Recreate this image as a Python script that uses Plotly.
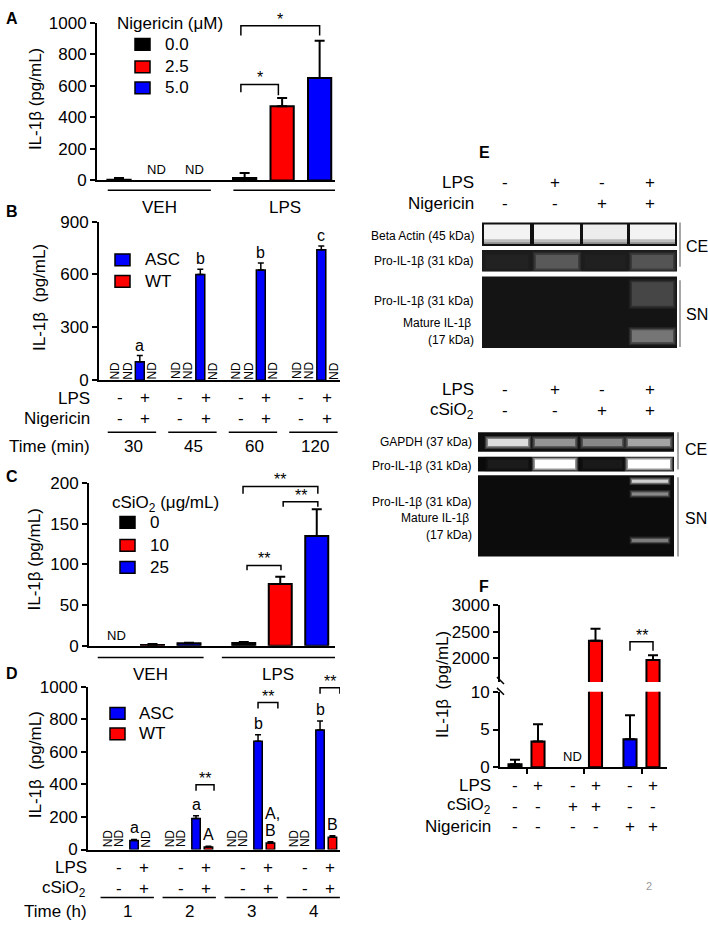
import plotly.graph_objects as go

W, H = 708, 932
FONT = "Liberation Sans, Arial, Helvetica, sans-serif"
BLK, RED, BLU = "#000000", "#ff0000", "#0000ff"

# ---------------- data ----------------
# Panel A : Nigericin dose, VEH / LPS
A_groups = ["VEH", "LPS"]
A_doses = ["0.0", "2.5", "5.0"]
A_vals = [5, None, None, 15, 470, 650]
A_err = [10, 0, 0, 32, 52, 235]
A_cols = [BLK, RED, BLU, BLK, RED, BLU]

# Panel B : time course (min), ASC vs WT, LPS + Nigericin
B_times = ["30", "45", "60", "120"]
B_asc = [105, 600, 625, 740]
B_asc_err = [35, 30, 40, 22]
B_letters = ["a", "b", "b", "c"]
B_lps = ["-", "+"]
B_nig = ["-", "+"]

# Panel C : cSiO2 dose, VEH / LPS
C_groups = ["VEH", "LPS"]
C_doses = ["0", "10", "25"]
C_vals = [None, 1, 3, 3.5, 76, 135]
C_err = [0, 1.2, 0.8, 1.0, 9, 33]
C_cols = [BLK, RED, BLU, BLK, RED, BLU]

# Panel D : time course (h), ASC vs WT, LPS + cSiO2
D_times = ["1", "2", "3", "4"]
D_asc = [55, 190, 665, 735]
D_asc_err = [7, 18, 40, 55]
D_wt = [None, 15, 40, 75]
D_wt_err = [0, 5, 8, 10]
D_asc_letters = ["a", "a", "b", "b"]
D_wt_letters = [[], ["A"], ["A,", "B"], ["B"]]
D_lps = ["-", "+"]
D_sio2 = ["-", "+"]

# Panel F : broken axis
F_vals = [0.4, 3.4, None, 2330, 3.7, 1970]
F_err = [0.6, 2.3, 0, 220, 3.2, 90]
F_cols = [BLK, RED, RED, RED, BLU, RED]
F_lps = ["-", "+", "-", "+", "-", "+"]
F_sio2 = ["-", "-", "+", "+", "-", "-"]
F_nig = ["-", "-", "-", "-", "+", "+"]

# Panel E : blots (relative band intensity per lane)
E1_lps = ["-", "+", "-", "+"]
E1_nig = ["-", "-", "+", "+"]
E2_lps = ["-", "+", "-", "+"]
E2_sio2 = ["-", "-", "+", "+"]
E1_actin = [0.95, 0.95, 0.92, 0.95]
E1_pro_ce = [0.07, 0.30, 0.06, 0.28]
E1_sn_pro = [0.0, 0.0, 0.0, 0.22]
E1_sn_mat = [0.0, 0.0, 0.0, 0.42]
E2_gapdh = [0.85, 0.55, 0.5, 0.62]
E2_pro_ce = [0.04, 1.0, 0.03, 1.0]
E2_sn_pro_hi = [0.0, 0.0, 0.0, 0.8]
E2_sn_pro_lo = [0.0, 0.0, 0.0, 0.5]
E2_sn_mat = [0.0, 0.0, 0.0, 0.45]

# ---------------- helpers ----------------
shapes, anns = [], []


def px(x):
    return x / W


def py(y):
    return 1 - y / H


def text(t, x, y, size=17, xa="center", ya="middle", xref="paper", yref="paper",
         angle=0, color="black", bold=False, yshift=0, xshift=0):
    X = px(x) if xref == "paper" else x
    Y = py(y) if yref == "paper" else y
    if bold:
        t = "<b>" + t + "</b>"
    anns.append(dict(text=t, x=X, y=Y, xref=xref, yref=yref, xanchor=xa, yanchor=ya,
                     showarrow=False, textangle=angle, yshift=yshift, xshift=xshift,
                     font=dict(family=FONT, size=size, color=color)))


def line(x0, y0, x1, y1, xref="paper", yref="paper", w=1.5, color="black"):
    if xref == "paper":
        x0, x1 = px(x0), px(x1)
    if yref == "paper":
        y0, y1 = py(y0), py(y1)
    shapes.append(dict(type="line", x0=x0, y0=y0, x1=x1, y1=y1, xref=xref, yref=yref,
                       line=dict(color=color, width=w)))


def rect(x0, y0, x1, y1, fill, lc=None, lw=0, opacity=1.0):
    shapes.append(dict(type="rect", x0=px(x0), x1=px(x1), y0=py(y1), y1=py(y0),
                       xref="paper", yref="paper", fillcolor=fill, opacity=opacity,
                       line=dict(color=lc if lc else fill, width=lw)))


def bracket(xr, yr, x0, x1, yt, yl0, yl1, stars):
    shapes.append(dict(type="path", xref=xr, yref=yr,
                       path=f"M {x0},{yl0} L {x0},{yt} L {x1},{yt} L {x1},{yl1}",
                       line=dict(color="black", width=1.5)))
    text(stars, (x0 + x1) / 2, yt, size=16, ya="bottom", xref=xr, yref=yr, yshift=-4)


def legbox(x, y, color, label, tx):
    rect(x, y - 6, x + 15, y + 6, color, "black", 1.5)
    text(label, tx, y, xa="left")


def xaxis(p0, p1, r, anchor, **kw):
    d = dict(domain=[px(p0), px(p1)], range=r, anchor=anchor, showline=True,
             linecolor="black", linewidth=2, showgrid=False, zeroline=False,
             ticks="", showticklabels=False, fixedrange=True)
    d.update(kw)
    return d


def yaxis(top, bot, r, tv, anchor, **kw):
    d = dict(domain=[py(bot), py(top)], range=r, anchor=anchor, showline=True,
             linecolor="black", linewidth=2, showgrid=False, zeroline=False,
             ticks="outside", ticklen=5, tickwidth=2, tickcolor="black",
             tickvals=tv, ticktext=[str(v) for v in tv],
             tickfont=dict(family=FONT, size=17, color="black"), fixedrange=True)
    d.update(kw)
    return d


def bars(x, y, err, cols, xa, ya, width, lw=2, cap=5, th=2):
    return go.Bar(x=x, y=y, width=width, xaxis=xa, yaxis=ya, showlegend=False,
                  hoverinfo="skip",
                  marker=dict(color=cols, line=dict(color="black", width=lw)),
                  error_y=dict(type="data", symmetric=False, array=err,
                               arrayminus=[0] * len(err), color="black",
                               thickness=th, width=cap))


def gray(level, base=18):
    v = int(base + level * (255 - base))
    return f"rgb({v},{v},{v})"


def band(x0, x1, y0, y1, level, glow=2.0, clip=None):
    if level <= 0:
        return
    c = gray(level)
    for k, op in [(glow * 1.6, 0.22), (glow * 0.8, 0.45)]:
        a0, a1, b0, b1 = x0 - k, x1 + k, y0 - k, y1 + k
        if clip:
            a0, a1 = max(a0, clip[0]), min(a1, clip[1])
            b0, b1 = max(b0, clip[2]), min(b1, clip[3])
        rect(a0, b0, a1, b1, c, opacity=op)
    rect(x0, y0, x1, y1, c)


fig = go.Figure()

# ---------------- Panel A ----------------
A_x = [g * 3.35 + i for g in range(len(A_groups)) for i in range(len(A_doses))]
fig.add_trace(bars(A_x, A_vals, A_err, A_cols, "x", "y", 0.62))
for i, v in enumerate(A_vals):
    if v is None:
        text("ND", A_x[i], 0, size=13, ya="bottom", xref="x", yref="y", yshift=1)
for g, name in enumerate(A_groups):
    xa0, xa1 = A_x[3 * g] - 0.3, A_x[3 * g + 2] + 0.45
    line(xa0, 185, xa1, 185, xref="x")
    text(name, (xa0 + xa1) / 2, 203, xref="x")
bracket("x", "y", A_x[3] - 0.1, A_x[4] - 0.1, 609, 559, 540, "*")
bracket("x", "y", A_x[3] - 0.1, A_x[5], 981, 919, 919, "*")
text("Nigericin (\u03bcM)", 115, 15, xa="left")
for i, (d, c) in enumerate(zip(A_doses, [BLK, RED, BLU])):
    legbox(135, [36, 59, 80.5][i], c, d, 163)
text("IL-1\u03b2 (pg/mL)", 35, 92, angle=-90)
text("A", 12, 10, size=16, bold=True)

# ---------------- Panel B ----------------
B_off = [0, 1, 2.05, 3.05]
B_x = [5 * g + B_off[2] for g in range(len(B_times))]
fig.add_trace(bars(B_x, B_asc, B_asc_err, [BLU] * 4, "x2", "y2", 0.74, lw=1.5, cap=3, th=1.5))
for g in range(len(B_times)):
    for o in (B_off[0], B_off[1], B_off[3]):
        text("ND", 5 * g + o, 55, size=12, angle=-90, xref="x2", yref="y2")
    text(B_letters[g], B_x[g], B_asc[g] + B_asc_err[g], size=16, ya="bottom",
         xref="x2", yref="y2", yshift=0)
    for j, (l, n) in enumerate(zip(B_lps, B_nig)):
        xo = 5 * g + (0.4 if j == 0 else 2.5)
        text(l, xo, 397, xref="x2")
        text(n, xo, 418, xref="x2")
    line(5 * g - 0.6, 432, 5 * g + 3.4, 432, xref="x2")
    text(B_times[g], 5 * g + 1.5, 447, xref="x2")
text("LPS", 92, 398, xa="right")
text("Nigericin", 92, 418, xa="right")
text("Time (min)", 92, 447, xa="right")
legbox(115, 256, BLU, "ASC", 143)
legbox(115, 278, RED, "WT", 143)
text("IL-1\u03b2\u00a0\u00a0(pg/mL)", 40, 295, angle=-90)
text("B", 12, 207, size=16, bold=True)

# ---------------- Panel C ----------------
C_x = [g * 3.5 + i for g in range(len(C_groups)) for i in range(len(C_doses))]
fig.add_trace(bars(C_x, C_vals, C_err, C_cols, "x3", "y3", 0.63))
for i, v in enumerate(C_vals):
    if v is None:
        text("ND", C_x[i], 0, size=13, ya="bottom", xref="x3", yref="y3", yshift=1)
for g, name in enumerate(C_groups):
    xa0 = C_x[3 * g] - (0.5 if g == 0 else 0.6)
    xa1 = C_x[3 * g + 2] + (0.4 if g == 0 else 0.5)
    line(xa0, 662, xa1, 662, xref="x3")
    text(name, (xa0 + xa1) / 2, 679, xref="x3")
bracket("x3", "y3", C_x[3] + 0.09, C_x[4] + 0.02, 98.8, 92.8, 92.8, "**")
bracket("x3", "y3", C_x[3] - 0.02, C_x[5] + 0.03, 196, 187, 187, "**")
bracket("x3", "y3", C_x[4] + 0.08, C_x[5] + 0.03, 177, 171, 171, "**")
text("cSiO<sub>2</sub> (\u03bcg/mL)", 110, 505, xa="left")
for i, (d, c) in enumerate(zip(C_doses, [BLK, RED, BLU])):
    legbox(120, [524, 547.5, 570][i], c, d, 148)
text("IL-1\u03b2 (pg/mL)", 35, 562, angle=-90)
text("C", 12, 477, size=16, bold=True)

# ---------------- Panel D ----------------
D_off = [0, 0.95, 2.1, 3.1]
D_xa = [5 * g + D_off[2] for g in range(len(D_times))]
D_xw = [5 * g + D_off[3] for g in range(len(D_times))]
fig.add_trace(bars(D_xa + D_xw, D_asc + D_wt, D_asc_err + D_wt_err,
                   [BLU] * 4 + [RED] * 4, "x4", "y4", 0.68, lw=1.5, cap=3, th=1.5))
for g in range(len(D_times)):
    offs = [D_off[0], D_off[1]] + ([D_off[3]] if D_wt[g] is None else [])
    for o in offs:
        text("ND", 5 * g + o, 69, size=12, angle=-90, xref="x4", yref="y4")
    text(D_asc_letters[g], D_xa[g], D_asc[g] + D_asc_err[g], size=16, ya="bottom",
         xref="x4", yref="y4", yshift=1)
    if D_wt[g] is not None:
        for k, lab in enumerate(reversed(D_wt_letters[g])):
            text(lab, D_xw[g], D_wt[g] + D_wt_err[g], size=16, ya="bottom",
                 xref="x4", yref="y4", yshift=1 + 17 * k, xshift=2 if "," in lab else 0)
    for j, (l, s) in enumerate(zip(D_lps, D_sio2)):
        xo = 5 * g + (0.85 if j == 0 else 2.9)
        text(l, xo, 876, xref="x4")
        text(s, xo, 898, xref="x4")
    line(5 * g - 0.6, 907, 5 * g + 3.7, 907, xref="x4")
    text(D_times[g], 5 * g + 1.6, 921, xref="x4")
bracket("x4", "y4", D_xa[1], D_xw[1] + 0.45, 398, 361, 361, "**")
bracket("x4", "y4", D_xa[2], D_xw[2] + 0.6, 904, 867, 867, "**")
bracket("x4", "y4", D_xa[3], D_xw[3] + 0.6, 994, 958, 958, "**")
text("LPS", 89, 876, xa="right")
text("cSiO<sub>2</sub>", 88, 898, xa="right")
text("Time (h)", 89, 921, xa="right")
legbox(110, 719, BLU, "ASC", 137)
legbox(110, 740, RED, "WT", 137)
text("IL-1\u03b2\u00a0\u00a0(pg/mL)", 35, 772, angle=-90)
text("D", 12, 678, size=16, bold=True)

# ---------------- Panel F ----------------
F_x = [2.5 * g + i for g in range(3) for i in range(2)]
LOW_MAX, HIGH_MIN = 10, 1564
fig.add_trace(bars(F_x, F_vals, F_err, F_cols, "x5", "y5", 0.57))
F_hi = [v if (v is not None and v > HIGH_MIN) else None for v in F_vals]
fig.add_trace(bars(F_x, F_hi, F_err, F_cols, "x6", "y6", 0.57))
for i, v in enumerate(F_vals):
    if v is None:
        text("ND", F_x[i], 0, size=13, ya="bottom", xref="x5", yref="y5", yshift=1)
bracket("x6", "y6", F_x[4], F_x[5], 2309, 2145, 2145, "**")
for i in range(6):
    text(F_lps[i], F_x[i], 793, xref="x5")
    text(F_sio2[i], F_x[i], 814, xref="x5")
    text(F_nig[i], F_x[i], 835, xref="x5")
text("LPS", 493, 793, xa="right")
text("cSiO<sub>2</sub>", 493, 814, xa="right")
text("Nigericin", 493, 835, xa="right")
line(497, 682, 504, 689, w=1.5)
line(497, 693, 504, 700, w=1.5)
text("IL-1\u03b2\u00a0\u00a0(pg/mL)", 443, 690, angle=-90)
text("F", 484, 590, size=16, bold=True)
text("2", 649, 895, size=11, color="#999999")

# ---------------- Panel E (blots) ----------------
LANE_X = [505, 555, 602, 650]
text("E", 484, 146, size=16, bold=True)


def blot_header(rows, y0):
    for k, (lab, marks) in enumerate(rows):
        yy = y0 + 22 * k
        text(lab, 476, yy, xa="right")
        for xx, m in zip(LANE_X, marks):
            text(m, xx, yy)


blot_header([("LPS", E1_lps), ("Nigericin", E1_nig)], 177)
blot_header([("LPS", E2_lps), ("cSiO<sub>2</sub>", E2_sio2)], 388)

# top set
rect(482, 218, 677, 242, "#101010")
lanes1 = [(484, 530), (534, 580), (583, 627), (630, 675)]
for (a, b), lv in zip(lanes1, E1_actin):
    rect(a, 220, b, 238, gray(lv))
    rect(a, 235, b, 240, gray(lv * 0.7), opacity=0.8)
rect(482, 246, 677, 268, "#1c1c1c")
for (a, b), lv in zip(lanes1, E1_pro_ce):
    band(a + 2, b - 2, 251, 265, lv, glow=2, clip=(482, 677, 246, 268))
rect(482, 273, 677, 346, "#141414")
for (a, b), lv, lm in zip(lanes1, E1_sn_pro, E1_sn_mat):
    band(a + 2, b - 2, 279, 303, lv, glow=2, clip=(482, 677, 273, 346))
    band(a + 2, b - 2, 328, 340, lm, glow=2, clip=(482, 677, 273, 346))
line(680, 218, 680, 263, color="#888888", w=1.5)
line(680, 277, 680, 345, color="#888888", w=1.5)
text("CE", 684, 242, size=16, xa="left")
text("SN", 684, 312, size=16, xa="left")
text("Beta Actin (45 kDa)", 476, 232, size=12, xa="right")
text("Pro-IL-1\u03b2 (31 kDa)", 476, 257, size=12, xa="right")
text("Pro-IL-1\u03b2 (31 kDa)", 476, 298, size=12, xa="right")
text("Mature IL-1\u03b2", 473, 321, size=12, xa="right")
text("(17 kDa)", 476, 338, size=12, xa="right")

# bottom set
rect(478, 432, 674, 452, "#0e0e0e")
lanes2 = [(488, 528), (535, 575), (583, 622), (628, 670)]
for (a, b), lv in zip(lanes2, E2_gapdh):
    band(a, b, 439, 446, lv, glow=2, clip=(478, 674, 432, 452))
rect(478, 457, 674, 472, "#0a0a0a")
for (a, b), lv in zip(lanes2, E2_pro_ce):
    band(a, b, 460, 469, lv, glow=2, clip=(478, 674, 457, 472))
rect(478, 476, 674, 559, "#0c0c0c")
for (a, b), l1, l2, l3 in zip(lanes2, E2_sn_pro_hi, E2_sn_pro_lo, E2_sn_mat):
    band(a + 4, b - 2, 480.5, 483.5, l1, glow=1.5, clip=(478, 674, 476, 559))
    band(a + 4, b - 2, 493.5, 496.5, l2, glow=1.5, clip=(478, 674, 476, 559))
    band(a + 4, b - 2, 541, 544, l3, glow=1.5, clip=(478, 674, 476, 559))
line(678, 432, 678, 470, color="#888888", w=1.5)
line(678, 478, 678, 559, color="#888888", w=1.5)
text("CE", 683, 450, size=16, xa="left")
text("SN", 683, 520, size=16, xa="left")
text("GAPDH (37 kDa)", 474, 442, size=12, xa="right")
text("Pro-IL-1\u03b2 (31 kDa)", 474, 466, size=12, xa="right")
text("Pro-IL-1\u03b2 (31 kDa)", 474, 503, size=12, xa="right")
text("Mature IL-1\u03b2", 471, 520, size=12, xa="right")
text("(17 kDa)", 474, 537, size=12, xa="right")

# ---------------- layout ----------------
fig.update_layout(
    width=W, height=H, margin=dict(l=0, r=0, t=0, b=0),
    paper_bgcolor="white", plot_bgcolor="rgba(0,0,0,0)", showlegend=False,
    font=dict(family=FONT, size=17, color="black"),
    shapes=shapes, annotations=anns,
    xaxis=xaxis(97, 335, [(97 - 119) / 37.5, (335 - 119) / 37.5], "y"),
    yaxis=yaxis(14, 175, [0, 1000], [0, 200, 400, 600, 800, 1000], "x"),
    xaxis2=xaxis(99, 340, [(99 - 115) / 12.1, (340 - 115) / 12.1], "y2"),
    yaxis2=yaxis(217, 379, [0, 900], [0, 300, 600, 900], "x2"),
    xaxis3=xaxis(89, 335, [(89 - 116) / 36.5, (335 - 116) / 36.5], "y3"),
    yaxis3=yaxis(484, 650, [0, 200], [0, 50, 100, 150, 200], "x3"),
    xaxis4=xaxis(88, 340, [(88 - 108) / 12.4, (340 - 108) / 12.4], "y4"),
    yaxis4=yaxis(692, 858, [0, 1000], [0, 200, 400, 600, 800, 1000], "x4"),
    xaxis5=xaxis(500, 667, [(500 - 515) / 23, (667 - 515) / 23], "y5",
                 ticks="outside", ticklen=5, tickwidth=2, tickcolor="black",
                 tickvals=[0.5, 3, 5.5]),
    yaxis5=yaxis(697, 774, [0, LOW_MAX], [0, 5, 10], "x5"),
    xaxis6=xaxis(500, 667, [(500 - 515) / 23, (667 - 515) / 23], "y6", visible=False),
    yaxis6=yaxis(608, 687, [HIGH_MIN, 3000], [2000, 2500, 3000], "x6"),
)

fig.write_html("out.html",
               config={"displayModeBar": False, "staticPlot": True},
               post_script="document.body.style.margin='0px';document.body.style.padding='0px';document.body.style.overflow='hidden';")
